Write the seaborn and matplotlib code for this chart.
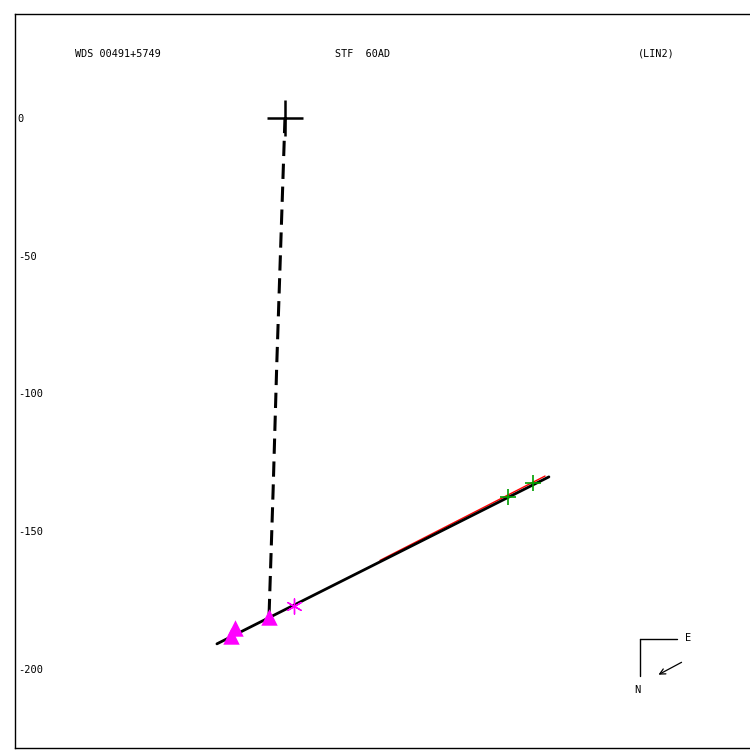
import numpy as np
import pandas as pd
import matplotlib
matplotlib.use('Agg')
import matplotlib.pyplot as plt
import seaborn as sns

# Orbit / measurement data (arcsec-ish units, primary at origin)
orbit_x = [-24.7, 95.8]
orbit_y = [-190.9, -130.3]
fit_x = [34.5, 94.4]
fit_y = [-160.6, -130.0]
track_x = [0.0, -1.5, -3.0, -4.3, -5.8]
track_y = [0.0, -45.0, -90.0, -135.0, -181.1]
tri_x = [-18.1, -19.6, -5.8]
tri_y = [-185.1, -188.0, -181.1]
star_x = [3.3]
star_y = [-177.1]
plus_x = [80.9, 90.0]
plus_y = [-137.6, -132.5]
yticks = [0, -50, -100, -150, -200]
header = ['WDS 00491+5749', 'STF  60AD', '(LIN2)']

sns.set_style('white')
plt.rcParams['font.family'] = ['DejaVu Sans Mono', 'DejaVu Sans']
plt.rcParams['text.color'] = 'black'
plt.rcParams['ytick.color'] = 'black'

fig = plt.figure(figsize=(7.5, 7.5), dpi=100)
ax = fig.add_axes([15 / 750, 2 / 750, 1 - 15 / 750, 734 / 750])

orbit = pd.DataFrame({'x': orbit_x, 'y': orbit_y})
fit = pd.DataFrame({'x': fit_x, 'y': fit_y})
track = pd.DataFrame({'x': track_x, 'y': track_y})

sns.lineplot(data=orbit, x='x', y='y', color='black', linewidth=2, sort=False, ax=ax, zorder=3)
sns.lineplot(data=fit, x='x', y='y', color='red', linewidth=1.0, sort=False, ax=ax, zorder=2)
ax.plot(track['x'], track['y'], color='black', linewidth=2.2, dashes=(5, 2.5), zorder=3)

ax.scatter(tri_x, tri_y, marker='^', s=140, color='#ff00ff', zorder=4, linewidths=0)
ax.scatter(star_x, star_y, marker=(6, 2, 0), s=120, color='#ff00ff', linewidths=1, zorder=4)
ax.scatter(plus_x, plus_y, marker='+', s=120, color='#00a000', linewidths=1.2, zorder=4)
# primary star
ax.scatter([0], [0], marker='+', s=700, color='black', linewidths=1.8, zorder=5)

ax.set_xlim(-98.0, 168.8)
ax.set_ylim(-228.7, 37.7)
ax.set_xticks([])
ax.set_yticks(yticks)
ax.set_yticklabels([str(t) for t in yticks])
ax.tick_params(axis='y', length=0, pad=-2, labelsize=7.5, labelcolor='black')
for lab in ax.get_yticklabels():
    lab.set_ha('left')
ax.set_xlabel('')
ax.set_ylabel('')
ax.spines['right'].set_visible(False)
for s in ['left', 'top', 'bottom']:
    ax.spines[s].set_linewidth(1)
    ax.spines[s].set_color('black')

# header
for txt, px in zip(header, [75, 335, 638]):
    fig.text(px / 750, 1 - 54 / 750, txt, fontsize=7.3, ha='left', va='center', color='black')

# compass
cx, cy = 640, 639
fig.add_artist(plt.Line2D([cx / 750, cx / 750], [1 - cy / 750, 1 - 676 / 750], color='black', linewidth=1))
fig.add_artist(plt.Line2D([cx / 750, 677 / 750], [1 - cy / 750, 1 - cy / 750], color='black', linewidth=1))
fig.text(688 / 750, 1 - 638 / 750, 'E', fontsize=7.5, ha='center', va='center', color='black')
fig.text(637 / 750, 1 - 690 / 750, 'N', fontsize=7.5, ha='center', va='center', color='black')
ax.annotate('', xy=(656, 750 - 676), xytext=(684, 750 - 661),
            xycoords='figure pixels', textcoords='figure pixels',
            arrowprops=dict(arrowstyle='->', color='black', linewidth=0.9))

fig.savefig('out.png', dpi=100, facecolor='white')
